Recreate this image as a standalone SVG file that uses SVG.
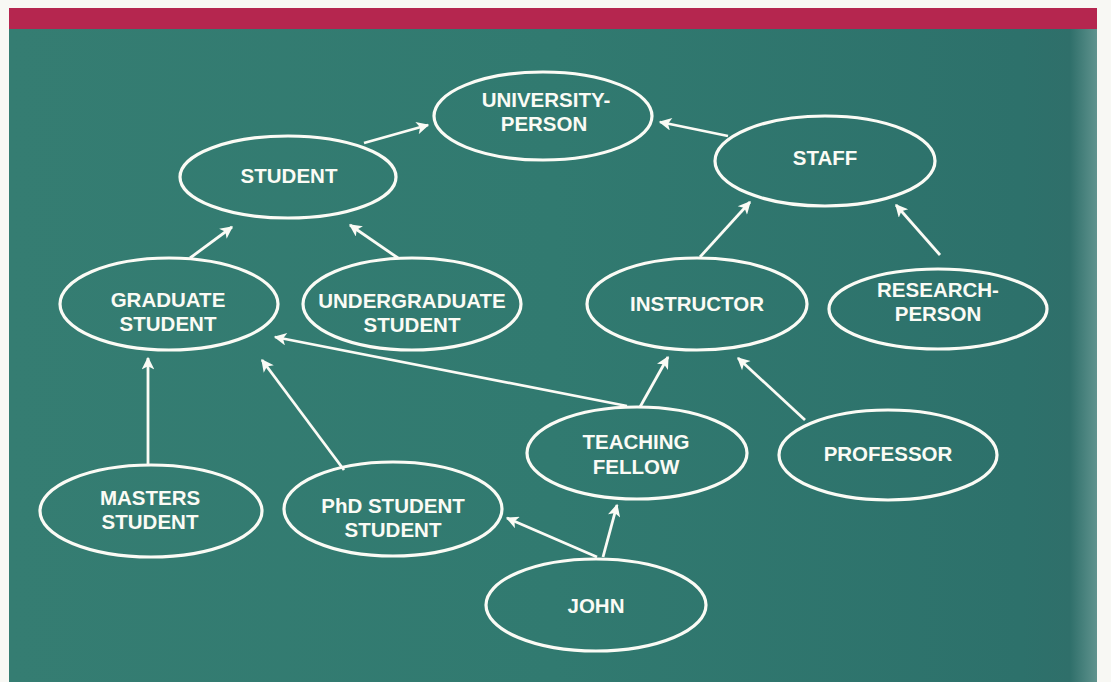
<svg xmlns="http://www.w3.org/2000/svg" width="1111" height="682" viewBox="0 0 1111 682">
  <defs>
    <linearGradient id="board" x1="0" y1="0" x2="1" y2="0">
      <stop offset="0" stop-color="#357d72"/>
      <stop offset="0.5" stop-color="#317a70"/>
      <stop offset="0.93" stop-color="#2d716b"/>
      <stop offset="0.975" stop-color="#2f6f6a"/>
      <stop offset="1" stop-color="#5f938e"/>
    </linearGradient>
    <marker id="head" viewBox="0 0 10 10" refX="9" refY="5" markerWidth="5.5" markerHeight="4.5" markerUnits="strokeWidth" orient="auto">
      <path d="M0,0 L10,5 L0,10 L2.5,5 Z" fill="#fbfbf5"/>
    </marker>
    <style>
      .node ellipse { fill: none; stroke: #fbfbf5; stroke-width: 3.2; }
      .node text { fill: #fbfbf5; font-family: "Liberation Sans", Arial, sans-serif; font-weight: bold; font-size: 20.5px; text-anchor: middle; }
      #links line { stroke: #fbfbf5; stroke-width: 2.8; marker-end: url(#head); }
    </style>
  </defs>

  <!-- page and board -->
  <rect x="0" y="0" width="1111" height="682" fill="#f8f8f4"/>
  <rect x="9" y="29" width="1088" height="653" fill="url(#board)"/>
  <rect x="9" y="8" width="1088" height="21" fill="#b5264f"/>

  <!-- inheritance links -->
  <g id="links">
    <line x1="364" y1="143" x2="428" y2="125"/>
    <line x1="728" y1="136" x2="660" y2="122"/>
    <line x1="190" y1="258" x2="232" y2="227"/>
    <line x1="398" y1="258" x2="350" y2="225"/>
    <line x1="700" y1="257" x2="750" y2="202"/>
    <line x1="940" y1="255" x2="896" y2="205"/>
    <line x1="627" y1="406" x2="275" y2="337"/>
    <line x1="640" y1="407" x2="668" y2="357"/>
    <line x1="805" y1="420" x2="738" y2="358"/>
    <line x1="148" y1="464" x2="148" y2="358"/>
    <line x1="344" y1="470" x2="262" y2="360"/>
    <line x1="597" y1="557" x2="507" y2="518"/>
    <line x1="603" y1="557" x2="617" y2="505"/>
  </g>

  <g id="university-person" class="node">
    <ellipse cx="543" cy="116" rx="109" ry="44"/>
    <text x="546" y="107">UNIVERSITY-</text>
    <text x="544" y="131">PERSON</text>
  </g>
  <g id="student" class="node">
    <ellipse cx="288" cy="177" rx="108" ry="41"/>
    <text x="289" y="183">STUDENT</text>
  </g>
  <g id="staff" class="node">
    <ellipse cx="825" cy="161" rx="110" ry="45"/>
    <text x="825" y="165">STAFF</text>
  </g>
  <g id="graduate-student" class="node">
    <ellipse cx="169" cy="304" rx="109" ry="46"/>
    <text x="168" y="307">GRADUATE</text>
    <text x="168" y="331">STUDENT</text>
  </g>
  <g id="undergraduate-student" class="node">
    <ellipse cx="412" cy="304" rx="109" ry="46"/>
    <text x="412" y="308">UNDERGRADUATE</text>
    <text x="412" y="332">STUDENT</text>
  </g>
  <g id="instructor" class="node">
    <ellipse cx="697" cy="304" rx="110" ry="46"/>
    <text x="697" y="311">INSTRUCTOR</text>
  </g>
  <g id="research-person" class="node">
    <ellipse cx="938" cy="309" rx="109" ry="40"/>
    <text x="938" y="297">RESEARCH-</text>
    <text x="938" y="321">PERSON</text>
  </g>
  <g id="teaching-fellow" class="node">
    <ellipse cx="637" cy="453" rx="110" ry="46"/>
    <text x="636" y="449">TEACHING</text>
    <text x="636" y="474">FELLOW</text>
  </g>
  <g id="professor" class="node">
    <ellipse cx="888" cy="455" rx="109" ry="45"/>
    <text x="888" y="461">PROFESSOR</text>
  </g>
  <g id="masters-student" class="node">
    <ellipse cx="151" cy="511" rx="111" ry="46"/>
    <text x="150" y="505">MASTERS</text>
    <text x="150" y="529">STUDENT</text>
  </g>
  <g id="phd-student" class="node">
    <ellipse cx="393" cy="509" rx="109" ry="47"/>
    <text x="393" y="513">PhD STUDENT</text>
    <text x="393" y="537">STUDENT</text>
  </g>
  <g id="john" class="node">
    <ellipse cx="596" cy="605" rx="110" ry="46"/>
    <text x="596" y="613">JOHN</text>
  </g>
</svg>
